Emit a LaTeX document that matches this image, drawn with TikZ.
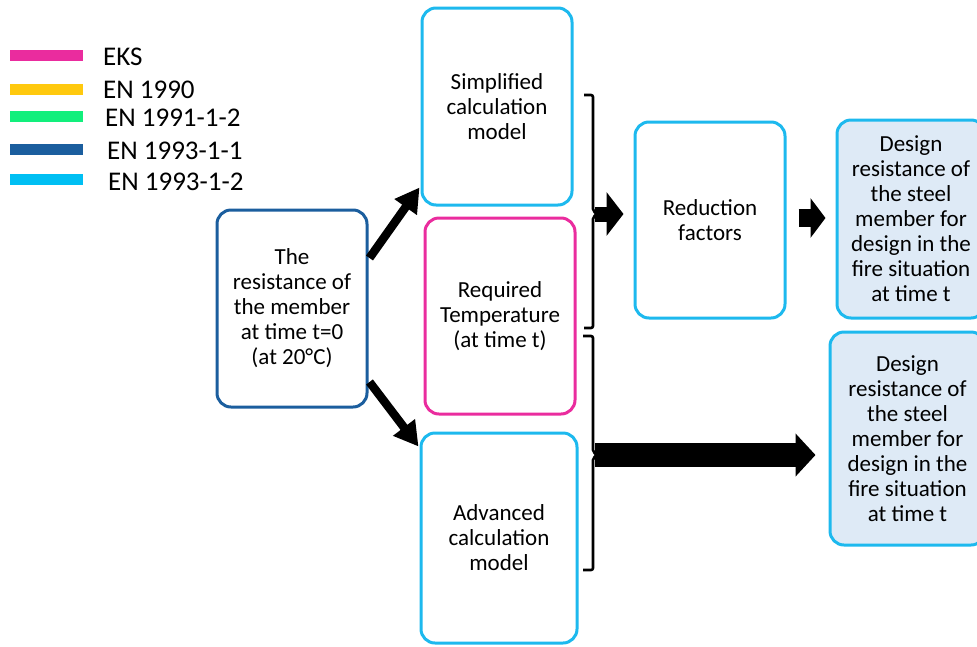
\documentclass[tikz,border=0pt]{standalone}
\usepackage{fontspec}
\setmainfont{Carlito}
\usetikzlibrary{arrows.meta,calc}
\definecolor{cEKS}{HTML}{EA2C9E}
\definecolor{cENa}{HTML}{FFC90E}
\definecolor{cENb}{HTML}{12EF7C}
\definecolor{cENc}{HTML}{1B5E9E}
\definecolor{cENd}{HTML}{00BFF3}
\definecolor{boxcyan}{HTML}{1DB9EE}
\definecolor{boxfill}{HTML}{DEEAF6}
\begin{document}
\begin{tikzpicture}[x=1pt,y=-1pt,
  legbar/.style={line width=11pt},
  legtext/.style={anchor=west,inner sep=0pt,font=\fontsize{27}{30}\selectfont},
  stagebox/.style={draw=boxcyan,line width=3pt,rounded corners=14pt,align=center,
    font=\fontsize{23}{25}\selectfont,inner sep=0pt},
  resultbox/.style={stagebox,fill=boxfill},
  diagarrow/.style={line width=8.5pt,-{Triangle[length=24pt,width=26pt]}},
  bracketline/.style={line width=2.6pt,rounded corners=2pt}]
\useasboundingbox (0,0) rectangle (977,646);
\begin{scope}
\clip (0,0) rectangle (977,646);

% legend
\draw[legbar,cEKS] (10,55) -- (83,55);
\draw[legbar,cENa] (10,89) -- (83,89);
\draw[legbar,cENb] (10,116) -- (83,116);
\draw[legbar,cENc] (10,149) -- (83,149);
\draw[legbar,cENd] (10,179) -- (83,179);
\node[legtext] (lgA) at (103,57) {EKS};
\node[legtext] (lgB) at (103,90) {EN 1990};
\node[legtext] (lgC) at (105,118) {EN 1991-1-2};
\node[legtext] (lgD) at (107,151) {EN 1993-1-1};
\node[legtext] (lgE) at (108,182) {EN 1993-1-2};

% boxes
\node[stagebox,draw=cENc,minimum width=150pt,minimum height=197pt] (res) at (292,308.5)
  {The\\resistance of\\the member\\at time t=0\\(at 20°C)};
\node[stagebox,minimum width=150pt,minimum height=197pt] (simp) at (497,106.5)
  {Simplified\\calculation\\model};
\node[stagebox,draw=cEKS,minimum width=150pt,minimum height=196pt] (temp) at (500,316)
  {Required\\Temperature\\(at time t)};
\node[stagebox,minimum width=156pt,minimum height=210pt] (adv) at (499,538)
  {Advanced\\calculation\\model};
\node[stagebox,minimum width=150pt,minimum height=196pt] (red) at (710,220)
  {Reduction\\factors};
\node[resultbox,minimum width=148pt,minimum height=198pt] (des1) at (911,219)
  {Design\\resistance of\\the steel\\member for\\design in the\\fire situation\\at time t};
\node[resultbox,minimum width=155pt,minimum height=213pt] (des2) at (907.5,438.5)
  {Design\\resistance of\\the steel\\member for\\design in the\\fire situation\\at time t};

% arrows out of the initial resistance box
\draw[diagarrow] ($(res.east)+(1,-50.5)$) -- ($(simp.south west)+(-1,-19)$);
\draw[diagarrow] ($(res.east)+(1,73.5)$) -- ($(adv.north west)+(-1,15)$);

% brackets grouping the boxes
\draw[bracketline] (584,95) -- (593,95) -- (593,211) -- (597,214) -- (593,217) -- (593,328) -- (584,328);
\coordinate (b1) at (595,214);
\draw[bracketline] (583,336) -- (593,336) -- (593,452) -- (597,455) -- (593,458) -- (593,570) -- (583,570);
\coordinate (b2) at (595,455);

% block arrows
\draw[line width=15pt,-{Triangle[length=17pt,width=43pt]}] (b1) -- ($(b1 -| red.west)+(-10,0)$);
\draw[line width=18pt,-{Triangle[length=15pt,width=39pt]}] ($(red.east)+(12,-2)$) -- ($(red.east -| des1.west)+(-10,-2)$);
\draw[line width=24pt,-{Triangle[length=20pt,width=42pt]}] (b2) -- ($(b2 -| des2.west)+(-13,0)$);
\end{scope}
\end{tikzpicture}
\end{document}
